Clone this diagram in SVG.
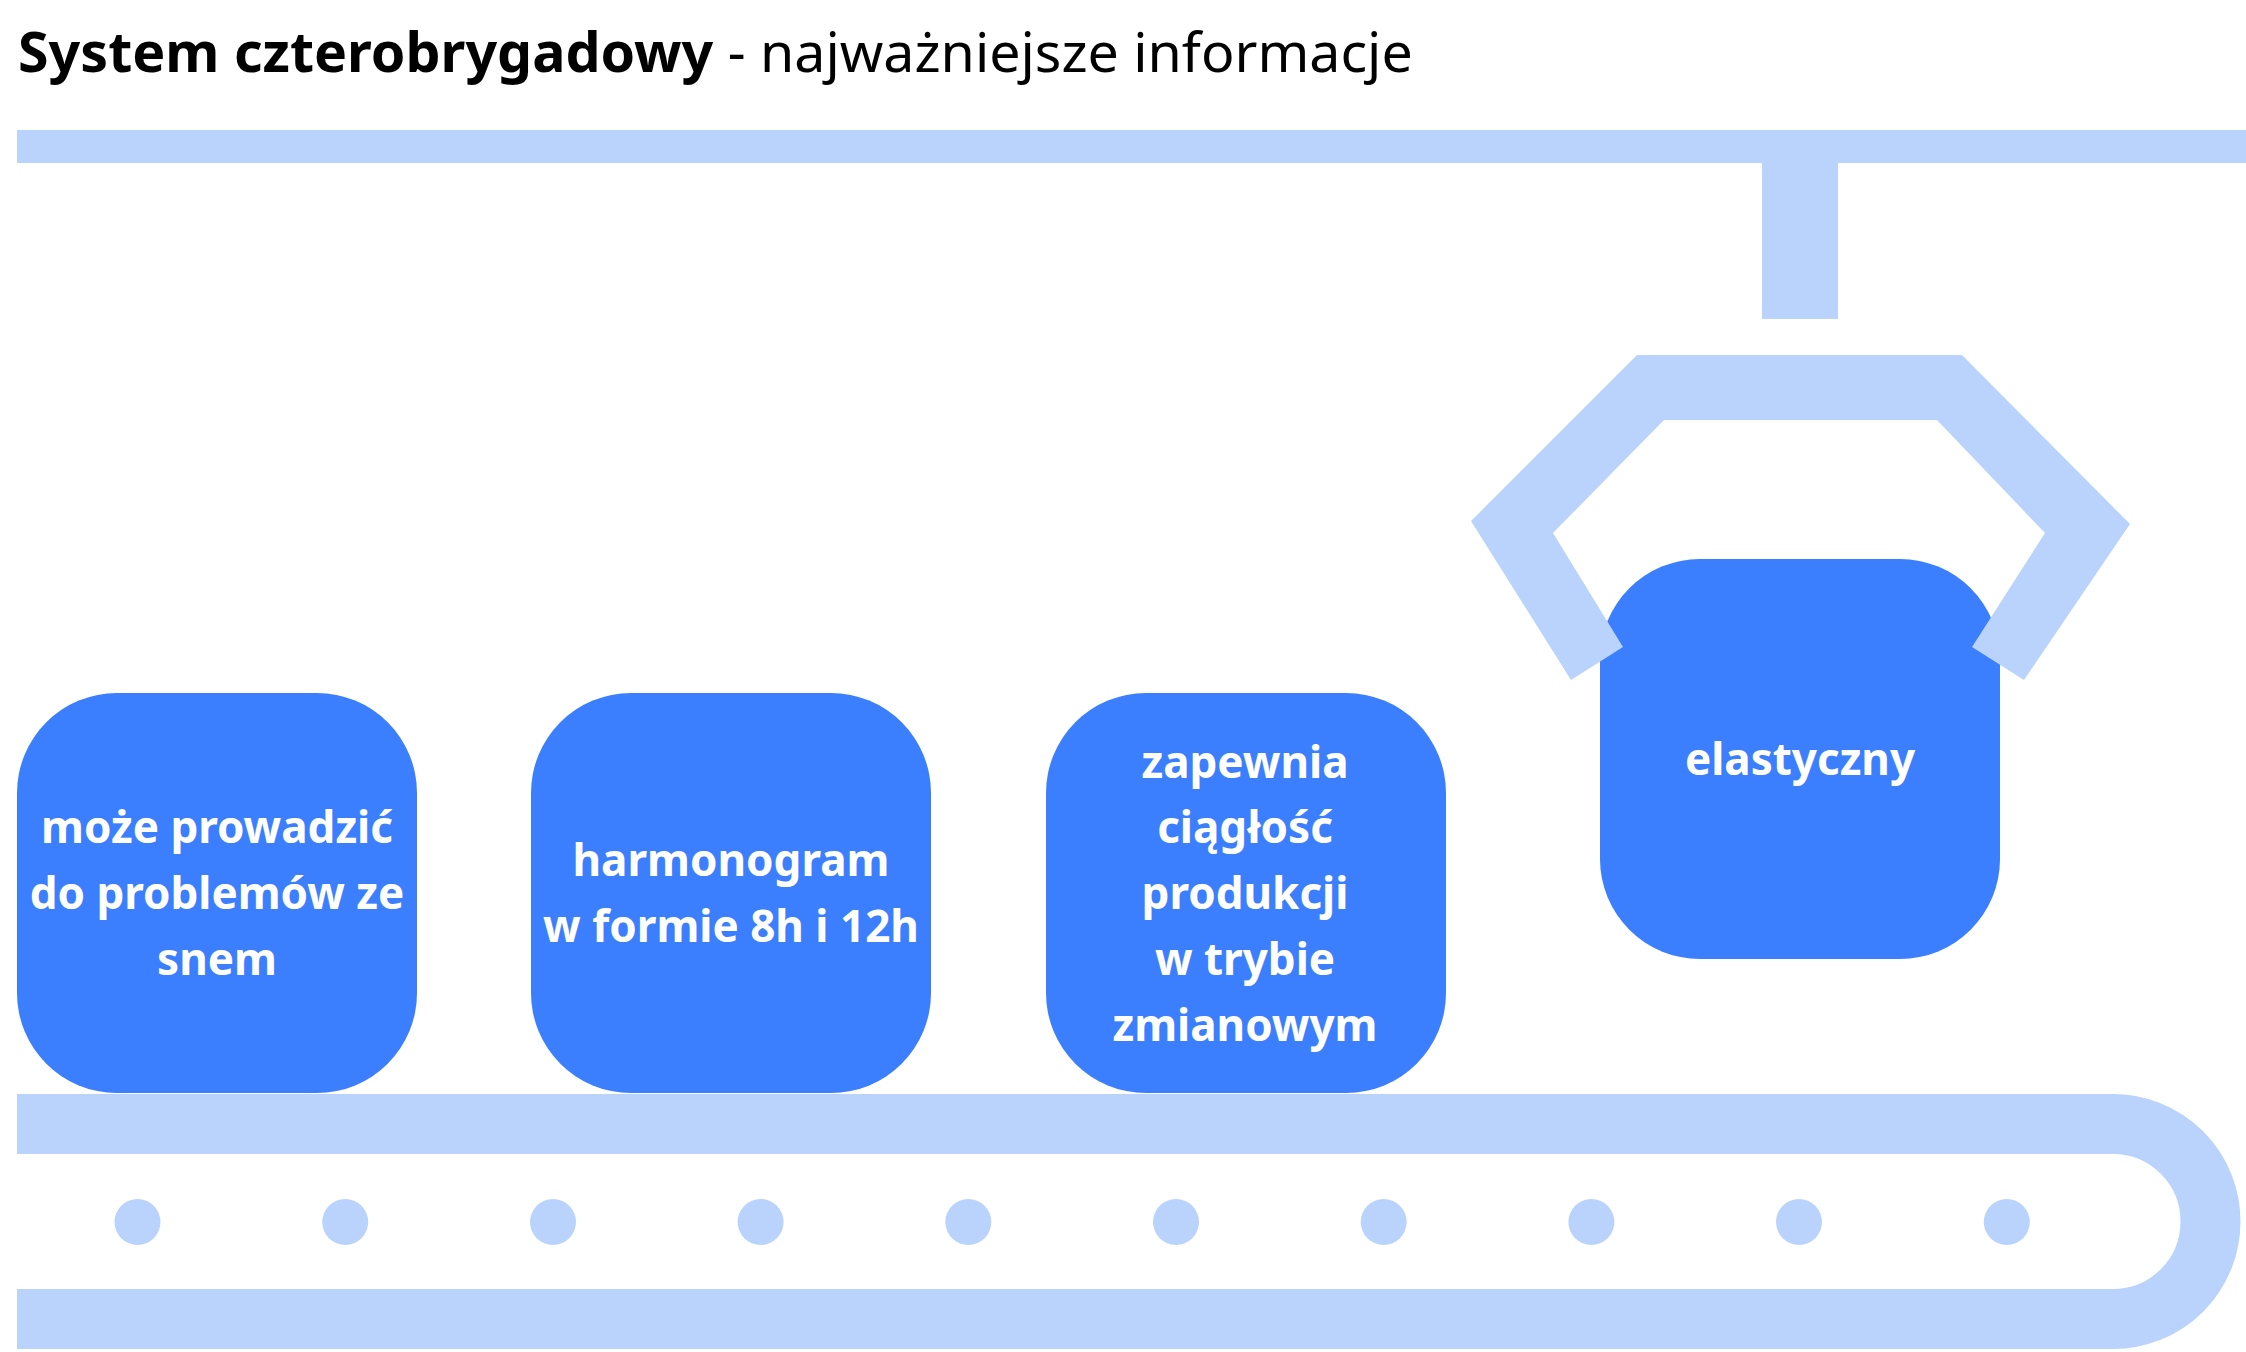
<svg xmlns="http://www.w3.org/2000/svg" width="2246" height="1352" viewBox="0 0 2246 1352">
<style>
.lt{fill:#b9d3fc}
.box{fill:#3b7efe}
.t{font-family:"Noto Sans",sans-serif;font-weight:700;font-size:44px;fill:#fff;text-anchor:middle;dominant-baseline:central}
</style>
<rect width="2246" height="1352" fill="#fff"/>
<text x="18" y="72" font-family="'Noto Sans',sans-serif" font-size="55.5" fill="#000"><tspan font-weight="700">System czterobrygadowy</tspan> - najważniejsze informacje</text>
<g id="machine">
<rect class="lt" x="17" y="130" width="2229" height="33"/>
<rect class="lt" x="1762" y="163" width="76" height="156"/>
</g>
<g id="conveyor">
<path d="M17,1124 H2113 A97.4,97.4 0 0 1 2113,1319 H17" fill="none" stroke="#b9d3fc" stroke-width="60"/>
<g class="lt">
<circle cx="137.5" cy="1222" r="23"/><circle cx="345.2" cy="1222" r="23"/><circle cx="553" cy="1222" r="23"/><circle cx="760.6" cy="1222" r="23"/><circle cx="968.3" cy="1222" r="23"/><circle cx="1176" cy="1222" r="23"/><circle cx="1383.7" cy="1222" r="23"/><circle cx="1591.4" cy="1222" r="23"/><circle cx="1799" cy="1222" r="23"/><circle cx="2006.8" cy="1222" r="23"/>
</g>
</g>
<g id="n1"><rect class="box" x="17" y="693" width="400" height="400" rx="100"/>
<text class="t" x="217" y="826">może prowadzić</text><text class="t" x="217" y="892">do problemów ze</text><text class="t" x="217" y="958">snem</text></g>
<g id="n2"><rect class="box" x="531" y="693" width="400" height="400" rx="100"/>
<text class="t" x="731" y="859">harmonogram</text><text class="t" x="731" y="925">w formie 8h i 12h</text></g>
<g id="n3"><rect class="box" x="1046" y="693" width="400" height="400" rx="100"/>
<text class="t" x="1245" y="761">zapewnia</text><text class="t" x="1245" y="826">ciągłość</text><text class="t" x="1245" y="892">produkcji</text><text class="t" x="1245" y="958">w trybie</text><text class="t" x="1245" y="1024">zmianowym</text></g>
<g id="n4"><rect class="box" x="1600" y="559" width="400" height="400" rx="100"/>
<text class="t" x="1800" y="758">elastyczny</text></g>
<g id="claw"><polygon class="lt" points="1637,355 1962,355 2130,524 2024,680 1972,647 2045,533 1937,420 1664,420 1553,533 1623,647 1571,680 1471,521"/></g>
</svg>
